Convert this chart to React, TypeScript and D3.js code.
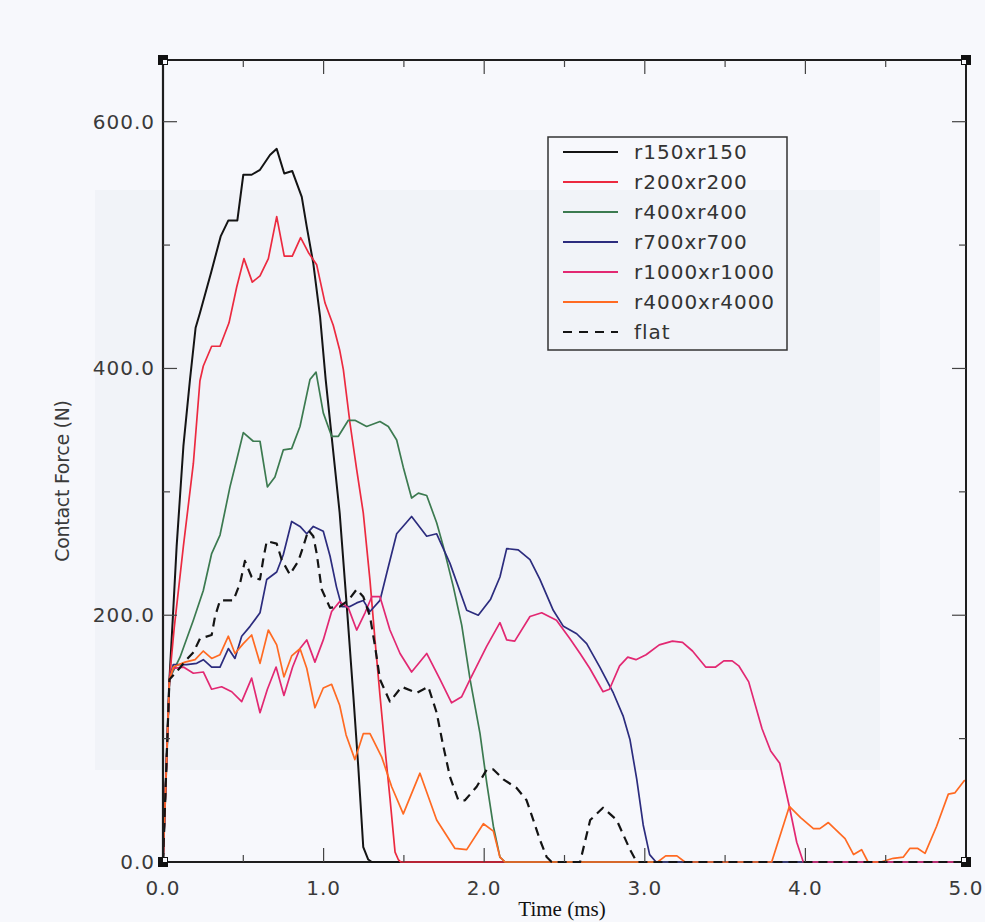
import React from "react";
import * as d3 from "d3";

type Pt = [number, number];

const seriesNames = ["r150xr150", "r200xr200", "r400xr400", "r700xr700", "r1000xr1000", "r4000xr4000", "flat"];

const r150: Pt[] = [[0,0],[0.04,148],[0.06,195],[0.085,256],[0.127,337],[0.168,391],[0.203,433],[0.23,445],[0.3,478],[0.359,507],[0.407,520],[0.463,520],[0.5,557],[0.552,557],[0.604,561],[0.666,573],[0.708,578],[0.755,558],[0.805,560],[0.864,539],[0.895,515],[0.936,485],[0.978,442],[1.013,391],[1.05,345],[1.1,283],[1.144,208],[1.185,135],[1.216,77],[1.247,12],[1.278,2],[1.3,0],[5,0]];

const r200: Pt[] = [[0,0],[0.04,148],[0.07,190],[0.127,256],[0.189,323],[0.23,390],[0.251,402],[0.303,418],[0.355,418],[0.411,437],[0.459,466],[0.504,489],[0.556,470],[0.604,475],[0.656,489],[0.708,523],[0.755,491],[0.805,491],[0.857,506],[0.905,494],[0.957,484],[1.009,453],[1.06,435],[1.1,415],[1.123,399],[1.164,356],[1.206,318],[1.247,283],[1.289,228],[1.32,180],[1.351,135],[1.38,95],[1.413,52],[1.445,8],[1.465,2],[1.48,0],[5,0]];

const r400: Pt[] = [[0,0],[0.04,148],[0.054,152],[0.106,166],[0.189,196],[0.251,220],[0.303,250],[0.355,265],[0.417,304],[0.459,326],[0.5,348],[0.562,341],[0.604,341],[0.65,304],[0.697,312],[0.749,334],[0.801,335],[0.853,353],[0.915,391],[0.953,397],[0.998,364],[1.05,345],[1.092,345],[1.154,358],[1.195,358],[1.268,353],[1.351,357],[1.403,353],[1.455,342],[1.496,320],[1.548,295],[1.59,299],[1.642,297],[1.704,275],[1.745,256],[1.808,223],[1.86,192],[1.912,148],[1.974,104],[2.016,64],[2.057,29],[2.098,4],[2.13,0],[5,0]];

const r700: Pt[] = [[0,0],[0.04,148],[0.064,160],[0.147,160],[0.21,161],[0.251,164],[0.303,158],[0.355,158],[0.407,173],[0.448,165],[0.49,183],[0.542,191],[0.604,202],[0.646,229],[0.708,235],[0.749,249],[0.801,276],[0.853,272],[0.895,266],[0.936,272],[0.998,268],[1.04,248],[1.08,223],[1.113,207],[1.164,207],[1.206,210],[1.247,212],[1.289,203],[1.351,212],[1.393,234],[1.455,266],[1.548,280],[1.642,264],[1.704,266],[1.787,242],[1.891,204],[1.963,200],[2.04,213],[2.098,231],[2.14,254],[2.212,253],[2.285,245],[2.347,229],[2.43,204],[2.493,191],[2.576,185],[2.638,177],[2.72,158],[2.804,137],[2.866,118],[2.908,99],[2.95,67],[2.99,30],[3.03,6],[3.07,0],[5,0]];

const r1000: Pt[] = [[0,0],[0.04,148],[0.064,157],[0.127,158],[0.189,153],[0.251,154],[0.303,140],[0.365,142],[0.428,138],[0.49,130],[0.552,149],[0.604,121],[0.65,140],[0.704,158],[0.753,135],[0.807,158],[0.853,173],[0.895,180],[0.946,162],[0.998,180],[1.05,203],[1.1,211],[1.154,206],[1.206,188],[1.258,202],[1.3,215],[1.351,215],[1.413,188],[1.476,169],[1.548,154],[1.642,169],[1.725,148],[1.797,129],[1.86,134],[1.912,148],[2.016,175],[2.098,194],[2.14,180],[2.19,179],[2.285,199],[2.358,202],[2.45,196],[2.534,181],[2.597,169],[2.657,157],[2.74,138],[2.78,140],[2.843,159],[2.894,166],[2.945,164],[3.008,168],[3.09,176],[3.172,179],[3.235,178],[3.297,171],[3.379,158],[3.441,158],[3.492,163],[3.544,163],[3.585,159],[3.647,146],[3.73,108],[3.784,90],[3.84,80],[3.9,45],[3.946,16],[3.987,0],[5,0]];

const r4000: Pt[] = [[0,0],[0.04,148],[0.064,158],[0.137,162],[0.2,164],[0.251,171],[0.303,165],[0.355,168],[0.407,183],[0.448,169],[0.5,177],[0.552,184],[0.604,161],[0.656,188],[0.708,176],[0.753,150],[0.801,167],[0.853,173],[0.895,157],[0.946,125],[0.998,141],[1.05,144],[1.1,127],[1.14,103],[1.195,83],[1.247,104],[1.289,104],[1.362,85],[1.424,61],[1.496,39],[1.6,72],[1.704,34],[1.818,11],[1.891,10],[1.995,31],[2.057,25],[2.098,4],[2.13,0],[3.08,0],[3.13,5],[3.2,5],[3.25,0],[3.79,0],[3.9,45],[3.97,36],[4.05,27],[4.09,27],[4.143,32],[4.247,19],[4.3,6],[4.35,10],[4.39,0],[4.47,0],[4.547,3],[4.61,4],[4.65,11],[4.7,11],[4.745,7],[4.817,29],[4.89,55],[4.93,56],[4.99,66],[5,66]];

const flat: Pt[] = [[0,0],[0.04,148],[0.09,155],[0.147,164],[0.19,170],[0.23,181],[0.303,184],[0.324,199],[0.355,212],[0.438,212],[0.48,226],[0.51,244],[0.552,231],[0.604,229],[0.625,246],[0.646,260],[0.708,258],[0.739,245],[0.79,233],[0.843,244],[0.874,256],[0.905,269],[0.936,264],[0.957,250],[0.988,221],[1.04,206],[1.1,207],[1.154,212],[1.206,221],[1.247,215],[1.289,199],[1.32,175],[1.351,148],[1.413,130],[1.486,142],[1.58,137],[1.652,142],[1.704,121],[1.745,94],[1.787,69],[1.839,50],[1.88,50],[1.953,61],[2.016,75],[2.057,75],[2.119,67],[2.202,60],[2.264,50],[2.306,34],[2.347,18],[2.389,4],[2.42,0],[2.597,0],[2.66,34],[2.74,44],[2.825,34],[2.908,10],[2.95,0],[5,0]];

const seriesData: Pt[][] = [r150, r200, r400, r700, r1000, r4000, flat];
const seriesColors = ["#141414", "#ec2a40", "#3c7a50", "#2c2c7e", "#e22872", "#ff6a22", "#141414"];

const xMajorTicks = [0, 1, 2, 3, 4, 5];
const xMinorTicks = [0.5, 1.5, 2.5, 3.5, 4.5];
const yMajorTicks = [0, 200, 400, 600];
const yMinorTicks = [100, 300, 500];

const xTitle = "Time (ms)";
const yTitle = "Contact Force (N)";

export default function App() {
  const W = 985, H = 922;
  const L = 163, R = 966, T = 60, B = 862;
  const x = d3.scaleLinear().domain([0, 5]).range([L, R]);
  const y = d3.scaleLinear().domain([0, 650]).range([B, T]);
  const line = d3.line<Pt>().x(d => x(d[0])).y(d => y(d[1]));
  const fmt = d3.format(".1f");
  const axisCol = "#1e1e1e";
  const tickCol = "#444";
  const labelCol = "#3a3a3a";
  const bg = "#f7f8fc";
  const majLen = 14, minLen = 7;

  const corner = (cx: number, cy: number, k: string, dx: number, dy: number) => (
    <g key={k}>
      <rect x={cx - 5} y={cy - 5} width={10} height={10} fill="#111" />
      <rect x={cx - 2 + dx} y={cy - 2 + dy} width={4} height={4} fill={bg} />
    </g>
  );

  const legX = 548, legY = 137, legW = 239, legH = 213;

  return (
    <svg width={W} height={H} style={{ position: "absolute", left: 0, top: 0, display: "block" }}
      fontFamily="'DejaVu Sans', sans-serif">
      <rect x={0} y={0} width={W} height={H} fill={bg} />
      <rect x={95} y={190} width={785} height={580} fill="#f1f3f8" />

      {/* frame bottom under data */}
      <line x1={L} y1={B} x2={R} y2={B} stroke={axisCol} strokeWidth={2} />

      {/* data lines */}
      {seriesData.map((d, i) => (
        <path key={seriesNames[i]} d={line(d) || ""} fill="none" stroke={seriesColors[i]}
          strokeWidth={i === 0 ? 2 : i === 6 ? 2.2 : 1.7} strokeLinejoin="round"
          strokeDasharray={i === 6 ? "9 6" : undefined} />
      ))}

      {/* frame */}
      <line x1={L} y1={T} x2={L} y2={B} stroke={axisCol} strokeWidth={2.2} />
      <line x1={R} y1={T} x2={R} y2={B} stroke={axisCol} strokeWidth={2} />
      <line x1={L} y1={T} x2={R} y2={T} stroke={axisCol} strokeWidth={2.2} />

      {/* x ticks */}
      {xMajorTicks.slice(1, -1).map(t => (
        <g key={"xM" + t}>
          <line x1={x(t)} x2={x(t)} y1={T} y2={T + majLen} stroke={tickCol} strokeWidth={1.2} />
          <line x1={x(t)} x2={x(t)} y1={B} y2={B - majLen} stroke={tickCol} strokeWidth={1.2} />
        </g>
      ))}
      {xMinorTicks.map(t => (
        <g key={"xm" + t}>
          <line x1={x(t)} x2={x(t)} y1={T} y2={T + minLen} stroke={tickCol} strokeWidth={1.2} />
          <line x1={x(t)} x2={x(t)} y1={B} y2={B - minLen} stroke={tickCol} strokeWidth={1.2} />
        </g>
      ))}
      {/* y ticks */}
      {yMajorTicks.slice(1).map(v => (
        <g key={"yM" + v}>
          <line x1={L} x2={L + majLen} y1={y(v)} y2={y(v)} stroke={tickCol} strokeWidth={1.2} />
          <line x1={R} x2={R - majLen} y1={y(v)} y2={y(v)} stroke={tickCol} strokeWidth={1.2} />
        </g>
      ))}
      {yMinorTicks.map(v => (
        <g key={"ym" + v}>
          <line x1={L} x2={L + minLen} y1={y(v)} y2={y(v)} stroke={tickCol} strokeWidth={1.2} />
          <line x1={R} x2={R - minLen} y1={y(v)} y2={y(v)} stroke={tickCol} strokeWidth={1.2} />
        </g>
      ))}

      {corner(L, T, "c1", 2, 2)}
      {corner(R, T, "c2", -2, 2)}
      {corner(L, B, "c3", 2, -2)}
      {corner(R, B, "c4", -2, -2)}

      {/* tick labels */}
      {xMajorTicks.map(t => (
        <text key={"xl" + t} x={x(t)} y={895} textAnchor="middle" fontSize={20} letterSpacing={1}
          fill={labelCol}>{fmt(t)}</text>
      ))}
      {yMajorTicks.map(v => (
        <text key={"yl" + v} x={155} y={y(v) + 7} textAnchor="end" fontSize={20} letterSpacing={1}
          fill={labelCol}>{fmt(v)}</text>
      ))}

      {/* titles */}
      <text x={562} y={916} textAnchor="middle" fontFamily="'Liberation Serif', 'Times New Roman', serif"
        fontSize={21} fill="#111">{xTitle}</text>
      <text transform={`translate(69,481) rotate(-90)`} textAnchor="middle" fontSize={19}
        letterSpacing={-0.3} fill={labelCol}>{yTitle}</text>

      {/* legend */}
      <rect x={legX} y={legY} width={legW} height={legH} fill="none" stroke="#333" strokeWidth={1.5} />
      {seriesNames.map((n, i) => {
        const cy = legY + 15 + i * 30;
        return (
          <g key={"lg" + n}>
            <line x1={563} x2={618} y1={cy} y2={cy} stroke={seriesColors[i]} strokeWidth={2}
              strokeDasharray={i === 6 ? "9 7" : undefined} />
            <text x={634} y={cy + 7} fontSize={20} letterSpacing={1} fill="#333">{n}</text>
          </g>
        );
      })}
    </svg>
  );
}
